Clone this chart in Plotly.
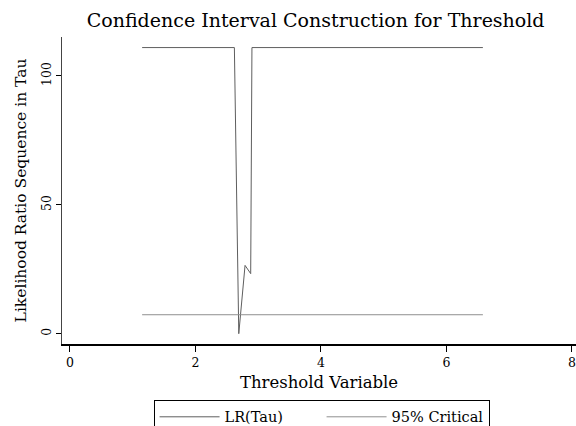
import plotly.graph_objects as go

# Data
tau = [1.15, 2.62, 2.69, 2.79, 2.88, 2.90, 6.58]
lr_tau = [111.0, 111.0, 0.0, 26.5, 23.3, 111.0, 111.0]
crit_x = [1.15, 6.58]
crit_y = [7.35, 7.35]
x_ticks = [0, 2, 4, 6, 8]
y_ticks = [0, 50, 100]

FONT = "DejaVu Serif"

fig = go.Figure()
fig.add_trace(go.Scatter(x=tau, y=lr_tau, mode="lines", name="LR(Tau)",
                         line=dict(color="#5e5e5e", width=1)))
fig.add_trace(go.Scatter(x=crit_x, y=crit_y, mode="lines", name="95% Critical",
                         line=dict(color="#8f8f8f", width=1)))

fig.update_layout(
    width=576, height=426,
    margin=dict(l=62, r=0, t=37, b=82, autoexpand=False),
    paper_bgcolor="white", plot_bgcolor="white",
    font=dict(family=FONT, color="black"),
    title=dict(text="Confidence Interval Construction for Threshold",
               x=0.548, xanchor="center", y=0.953, yanchor="middle",
               font=dict(family=FONT, size=19, color="black")),
    showlegend=True,
    legend=dict(orientation="h", x=0.505, xanchor="center", y=-0.182, yanchor="top",
                bordercolor="black", borderwidth=1, itemwidth=60,
                entrywidth=92,
                font=dict(family=FONT, size=14.5, color="black"),
                traceorder="normal"),
)
fig.update_xaxes(range=[-0.127, 8.064], tickvals=x_ticks, ticks="outside", ticklen=6,
                 tickcolor="black", showgrid=False, zeroline=False, automargin=False,
                 ticklabeloverflow="allow",
                 showline=True, linecolor="black", linewidth=1.5, mirror=False,
                 tickfont=dict(family=FONT, size=12.5),
                 title=dict(text="Threshold Variable", font=dict(family=FONT, size=16.5), standoff=8))
fig.update_yaxes(range=[-4.0, 115.1], tickvals=y_ticks, ticks="outside", ticklen=5,
                 tickcolor="black", showgrid=False, zeroline=False, automargin=False,
                 showline=True, linecolor="#444", linewidth=1, mirror=True,
                 tickangle=-90,
                 tickfont=dict(family=FONT, size=12.5),
                 title=dict(text="Likelihood Ratio Sequence in Tau", font=dict(family=FONT, size=15.5), standoff=8))

fig.write_html("out.html",
               config={"displayModeBar": False},
               post_script="document.body.style.margin='0';document.body.style.overflow='hidden';")
